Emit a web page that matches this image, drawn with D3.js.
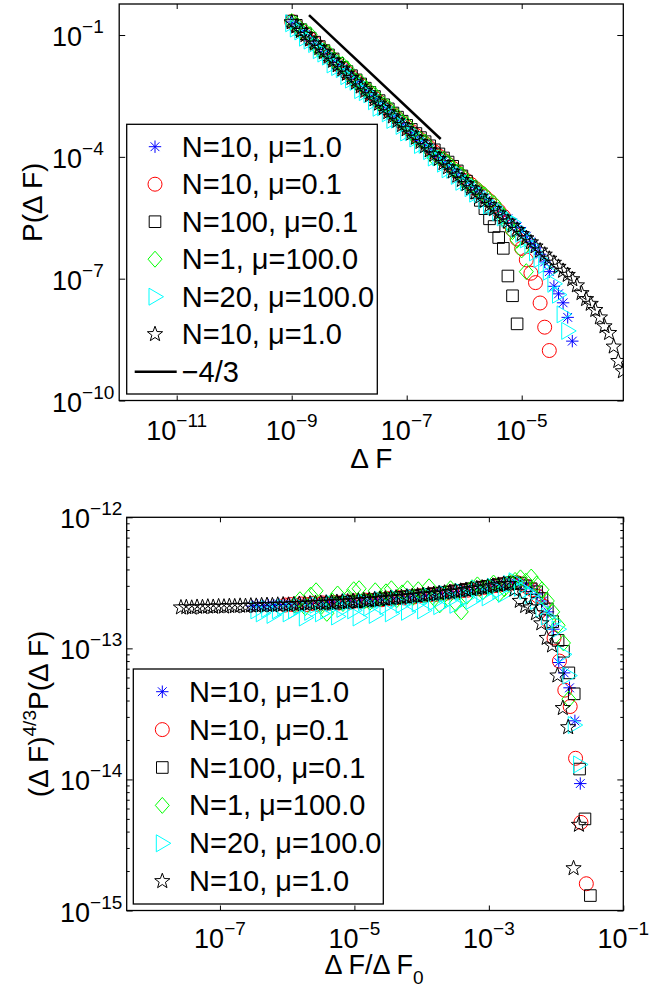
<!DOCTYPE html>
<html>
<head>
<meta charset="utf-8">
<script src="https://cdn.jsdelivr.net/npm/d3@7"></script>
<style>
  body { margin: 0; background: #fff; }
  text { font-family: "Liberation Sans", Arial, Helvetica, sans-serif; fill: #000; }
</style>
</head>
<body>
<div id="chart-area"></div>
<script>
// log10(dF) bin centres shared by every run
const BINS = [
  -9.00, -8.92, -8.84, -8.76, -8.68, -8.60, -8.52, -8.44, -8.36, -8.28,
  -8.20, -8.12, -8.04, -7.96, -7.88, -7.80, -7.72, -7.64, -7.56, -7.48,
  -7.40, -7.32, -7.24, -7.16, -7.08, -7.00, -6.92, -6.84, -6.76, -6.68,
  -6.60, -6.52, -6.44, -6.36, -6.28, -6.20, -6.12, -6.04, -5.96, -5.88,
  -5.80, -5.72, -5.64, -5.56, -5.48, -5.40, -5.32, -5.24, -5.16, -5.08,
  -5.00, -4.92, -4.84, -4.76, -4.68, -4.60, -4.52, -4.44, -4.36, -4.28,
  -4.20, -4.12, -4.04, -3.96, -3.88, -3.80, -3.72, -3.64, -3.56, -3.48,
  -3.40, -3.32, -3.24, -3.16, -3.08
]

const LABELS = ["N=10, \u03bc=1.0", "N=10, \u03bc=0.1", "N=100, \u03bc=0.1",
  "N=1, \u03bc=100.0", "N=20, \u03bc=100.0", "N=10, \u03bc=1.0"]
const COLORS = ["#0000ff", "#ff0000", "#000000", "#00ff00", "#00ffff", "#000000"]
const SYMBOLS = ["asterisk", "circle", "square", "diamond", "triangle", "star"]
// log10 of dF_0 used to rescale each run in the lower panel
const LOG_F0 = [-2.48, -2.97, -3.59, -3.11, -2.55, -1.42]

// (dF)^{4/3} P(dF), in units of 1e-13, one value per bin
const COMP_N10_MU1 = [2.10, 2.12, 2.11, 2.14, 2.13, 2.16, 2.15, 2.18, 2.17, 2.20,
  2.19, 2.22, 2.21, 2.24, 2.23, 2.26, 2.25, 2.29, 2.28, 2.32,
  2.31, 2.35, 2.34, 2.38, 2.37, 2.41, 2.42, 2.44, 2.46, 2.47,
  2.50, 2.52, 2.54, 2.57, 2.59, 2.62, 2.65, 2.68, 2.71, 2.74,
  2.78, 2.82, 2.86, 2.90, 2.94, 2.99, 3.04, 3.09, 3.14, 3.18,
  3.15, 3.05, 2.85, 2.60, 2.30, 1.90, 1.40, 0.78, 0.65, 0.50,
  0.28, 0.093]
const COMP_N10_MU01 = [2.14, 2.16, 2.13, 2.18, 2.16, 2.20, 2.17, 2.22, 2.20, 2.24,
  2.22, 2.27, 2.25, 2.30, 2.28, 2.33, 2.32, 2.36, 2.35, 2.40,
  2.39, 2.44, 2.43, 2.48, 2.47, 2.52, 2.53, 2.57, 2.58, 2.63,
  2.64, 2.69, 2.70, 2.76, 2.78, 2.84, 2.85, 2.92, 2.95, 3.01,
  3.05, 3.12, 3.15, 3.18, 3.10, 2.95, 2.80, 2.50, 2.10, 1.60,
  1.20, 0.80, 0.48, 0.36, 0.145, 0.047, 0.016]
const COMP_N100_MU01 = [2.20, 2.22, 2.21, 2.25, 2.24, 2.28, 2.27, 2.31, 2.31, 2.35,
  2.35, 2.39, 2.40, 2.43, 2.45, 2.48, 2.50, 2.53, 2.55, 2.58,
  2.61, 2.64, 2.67, 2.70, 2.74, 2.77, 2.81, 2.85, 2.89, 2.93,
  2.97, 3.02, 3.06, 3.11, 3.15, 3.17, 3.12, 3.00, 2.85, 2.70,
  2.40, 2.00, 1.60, 1.15, 0.95, 0.65, 0.45, 0.12, 0.05, 0.013]
const COMP_N1_MU100 = [2.15, 2.35, 2.05, 2.55, 2.75, 2.10, 1.85, 2.30, 2.60, 2.20,
  2.45, 2.80, 2.85, 2.30, 2.25, 2.75, 2.40, 2.70, 2.85, 2.35,
  2.65, 2.85, 2.45, 2.80, 2.55, 2.95, 2.40, 2.15, 2.60, 2.85,
  2.20, 1.90, 2.50, 2.90, 3.05, 2.70, 2.95, 3.15, 2.60, 2.85,
  3.20, 3.30, 3.45, 3.25, 3.50, 3.10, 2.80, 2.30, 1.90, 1.50,
  1.10, 0.41]
const COMP_N20_MU100 = [1.95, 1.85, 2.00, 1.80, 1.95, 2.05, 1.85, 1.95, 2.10, 1.72,
  1.90, 2.15, 1.85, 1.95, 2.20, 1.75, 2.00, 2.25, 1.95, 1.72,
  2.25, 2.05, 1.80, 2.35, 2.10, 1.85, 2.40, 2.15, 1.90, 2.45,
  2.20, 1.95, 2.50, 2.25, 2.10, 2.60, 2.35, 2.15, 2.70, 2.45,
  2.30, 2.85, 2.60, 2.45, 2.95, 2.75, 2.60, 3.10, 3.25, 2.90,
  2.75, 2.55, 2.30, 2.00, 1.75, 1.60, 1.40, 0.90, 0.62, 0.26,
  0.13]
const COMP_N10_MU1_LONG = [2.05, 2.06, 2.04, 2.07, 2.06, 2.08, 2.07, 2.09, 2.08, 2.10,
  2.09, 2.11, 2.10, 2.12, 2.11, 2.13, 2.14, 2.13, 2.15, 2.16,
  2.15, 2.17, 2.18, 2.19, 2.20, 2.21, 2.22, 2.23, 2.24, 2.26,
  2.27, 2.28, 2.30, 2.31, 2.33, 2.34, 2.36, 2.38, 2.40, 2.42,
  2.44, 2.46, 2.48, 2.50, 2.53, 2.55, 2.58, 2.60, 2.63, 2.66,
  2.69, 2.72, 2.75, 2.79, 2.83, 2.87, 2.91, 2.95, 3.00, 3.05,
  3.10, 3.10, 2.80, 2.30, 2.10, 2.05, 1.85, 1.55, 1.20, 1.05,
  0.62, 0.35, 0.25, 0.021, 0.045]

// -4/3 guide line (dF, P)
const REF_DF = [2.0e-9, 3.9e-7]
const REF_P = [0.31, 2.75e-4]

const TOP_X_TICKS = [1e-11, 1e-9, 1e-7, 1e-5]
const TOP_Y_TICKS = [1e-10, 1e-7, 1e-4, 1e-1]
const BOT_X_TICKS = [1e-7, 1e-5, 1e-3, 1e-1]
const BOT_Y_TICKS = [1e-15, 1e-14, 1e-13, 1e-12]

const COMP = [COMP_N10_MU1, COMP_N10_MU01, COMP_N100_MU01, COMP_N1_MU100, COMP_N20_MU100, COMP_N10_MU1_LONG]

const series = COMP.map((vals, s) => vals.map((c, k) => {
  const dF = Math.pow(10, BINS[k])
  const comp = c * 1e-13
  return {
    dF: dF,
    p: comp / Math.pow(dF, 4 / 3),
    scaled: dF / Math.pow(10, LOG_F0[s]),
    comp: comp
  }
}))

const svg = d3.select("#chart-area").append("svg")
  .attr("width", 649)
  .attr("height", 988)

// Scales
const xTop = d3.scaleLog().domain([1e-12, Math.pow(10, -3.233)]).range([119.2, 623.3])
const yTop = d3.scaleLog().domain([1e-10, Math.pow(10, -0.236)]).range([400.5, 4])
const xBot = d3.scaleLog().domain([Math.pow(10, -8.387), 0.1]).range([126.7, 623.3])
const yBot = d3.scaleLog().domain([1e-15, 1e-12]).range([910.5, 517.3])

function marker(type) {
  if (type === "asterisk") {
    const r = 6.2, d = 4.4
    return `M${-r},0H${r}M0,${-r}V${r}M${-d},${-d}L${d},${d}M${-d},${d}L${d},${-d}`
  }
  if (type === "circle") {
    const r = 7
    return `M${r},0A${r},${r} 0 1,1 ${-r},0A${r},${r} 0 1,1 ${r},0Z`
  }
  if (type === "square") {
    const h = 5.8
    return `M${-h},${-h}H${h}V${h}H${-h}Z`
  }
  if (type === "diamond") {
    return "M0,-8L7,0L0,8L-7,0Z"
  }
  if (type === "triangle") {
    return "M-6,-8.5L8.5,0L-6,8.5Z"
  }
  // pentagram
  const pts = []
  for (let i = 0; i < 10; i++) {
    const r = i % 2 === 0 ? 8 : 3.3
    const a = -Math.PI / 2 + i * Math.PI / 5
    pts.push([r * Math.cos(a), r * Math.sin(a)])
  }
  return "M" + pts.map(p => p[0].toFixed(2) + "," + p[1].toFixed(2)).join("L") + "Z"
}

function powLabel(x, y, exp, anchor) {
  const t = svg.append("text")
    .attr("x", x)
    .attr("y", y)
    .attr("text-anchor", anchor)
    .attr("font-size", "27px")
  t.append("tspan").text("10")
  t.append("tspan").attr("font-size", "19px").attr("dy", -13).text("\u2212" + Math.abs(exp))
}

function frame(x, y, xTicks, yTicks, minor) {
  const [x0, x1] = x.range()
  const [y0, y1] = y.range()
  const g = svg.append("g")
  g.append("g").attr("transform", `translate(0,${y0})`)
    .call(d3.axisBottom(x).tickValues(xTicks).tickSize(-5).tickFormat(""))
  g.append("g").attr("transform", `translate(0,${y1})`)
    .call(d3.axisTop(x).tickValues(xTicks).tickSize(-5).tickFormat(""))
  g.append("g").attr("transform", `translate(${x0},0)`)
    .call(d3.axisLeft(y).tickValues(yTicks).tickSize(-6).tickFormat(""))
  g.append("g").attr("transform", `translate(${x1},0)`)
    .call(d3.axisRight(y).tickValues(yTicks).tickSize(-6).tickFormat(""))
  if (minor) {
    const m = []
    yTicks.slice(0, -1).forEach(t => { for (let k = 2; k < 10; k++) m.push(t * k) })
    g.append("g").attr("transform", `translate(${x0},0)`)
      .call(d3.axisLeft(y).tickValues(m).tickSize(-3).tickFormat(""))
    g.append("g").attr("transform", `translate(${x1},0)`)
      .call(d3.axisRight(y).tickValues(m).tickSize(-3).tickFormat(""))
  }
  g.selectAll(".domain").remove()
  g.selectAll(".tick line").attr("stroke", "#000")
  g.append("rect")
    .attr("x", x0).attr("y", y1)
    .attr("width", x1 - x0).attr("height", y0 - y1)
    .attr("fill", "none").attr("stroke", "#000").attr("stroke-width", 1.3)
}

function plotPoints(id, x, y, xKey, yKey) {
  const [x0, x1] = x.range()
  const [y0, y1] = y.range()
  svg.append("clipPath").attr("id", id)
    .append("rect").attr("x", x0).attr("y", y1).attr("width", x1 - x0).attr("height", y0 - y1)
  const g = svg.append("g").attr("clip-path", `url(#${id})`)
  series.forEach((pts, s) => {
    g.append("g").selectAll("path")
      .data(pts)
      .enter().append("path")
      .attr("d", marker(SYMBOLS[s]))
      .attr("transform", d => `translate(${x(d[xKey])},${y(d[yKey])})`)
      .attr("fill", "none")
      .attr("stroke", COLORS[s])
      .attr("stroke-width", 1)
  })
  return g
}

function legend(bx, by, bw, bh, mx, tx, cy, step, withLine) {
  svg.append("rect")
    .attr("x", bx).attr("y", by).attr("width", bw).attr("height", bh)
    .attr("fill", "#fff").attr("stroke", "#000").attr("stroke-width", 1.3)
  LABELS.forEach((lab, i) => {
    const yy = cy + i * step
    svg.append("path")
      .attr("d", marker(SYMBOLS[i]))
      .attr("transform", `translate(${mx},${yy})`)
      .attr("fill", "none").attr("stroke", COLORS[i]).attr("stroke-width", 1)
    svg.append("text").attr("x", tx).attr("y", yy + 10).attr("font-size", "29px").text(lab)
  })
  if (withLine) {
    const yy = cy + LABELS.length * step
    svg.append("line")
      .attr("x1", bx + 8).attr("x2", tx - 5).attr("y1", yy).attr("y2", yy)
      .attr("stroke", "#000").attr("stroke-width", 2.5)
    svg.append("text").attr("x", tx).attr("y", yy + 10).attr("font-size", "29px").text("\u22124/3")
  }
}

// ---------- upper panel ----------
frame(xTop, yTop, TOP_X_TICKS, TOP_Y_TICKS, false)
const gTop = plotPoints("clip-top", xTop, yTop, "dF", "p")
gTop.append("line")
  .attr("x1", xTop(REF_DF[0])).attr("y1", yTop(REF_P[0]))
  .attr("x2", xTop(REF_DF[1])).attr("y2", yTop(REF_P[1]))
  .attr("stroke", "#000").attr("stroke-width", 2.5)

TOP_X_TICKS.forEach(t => powLabel(xTop(t), 440, Math.log10(t), "middle"))
TOP_Y_TICKS.forEach(t => powLabel(52, yTop(t) + 11, Math.log10(t), "start"))

svg.append("text")
  .attr("x", (xTop.range()[0] + xTop.range()[1]) / 2)
  .attr("y", 468)
  .attr("text-anchor", "middle")
  .attr("font-size", "28px")
  .text("\u0394 F")
svg.append("text")
  .attr("transform", `translate(42,${(yTop.range()[0] + yTop.range()[1]) / 2}) rotate(-90)`)
  .attr("text-anchor", "middle")
  .attr("font-size", "28px")
  .text("P(\u0394 F)")

legend(126.7, 124.3, 250.6, 269.7, 155, 181.7, 146.7, 37.5, true)

// ---------- lower panel ----------
frame(xBot, yBot, BOT_X_TICKS, BOT_Y_TICKS, true)
plotPoints("clip-bot", xBot, yBot, "scaled", "comp")

BOT_X_TICKS.forEach(t => powLabel(xBot(t), 948, Math.log10(t), "middle"))
BOT_Y_TICKS.forEach(t => powLabel(60, yBot(t) + 11, Math.log10(t), "start"))

const xl = svg.append("text")
  .attr("x", 374)
  .attr("y", 974)
  .attr("text-anchor", "middle")
  .attr("font-size", "27px")
xl.append("tspan").text("\u0394 F/\u0394 F")
xl.append("tspan").attr("font-size", "19px").attr("dy", 10).text("0")

const yl = svg.append("text")
  .attr("transform", `translate(48,${(yBot.range()[0] + yBot.range()[1]) / 2}) rotate(-90)`)
  .attr("text-anchor", "middle")
  .attr("font-size", "28px")
yl.append("tspan").text("(\u0394 F)")
yl.append("tspan").attr("font-size", "19px").attr("dy", -12).text("4/3")
yl.append("tspan").attr("dy", 12).text("P(\u0394 F)")

legend(133.3, 669, 250, 235, 162.3, 189, 691.7, 37.9, false)
</script>
</body>
</html>
